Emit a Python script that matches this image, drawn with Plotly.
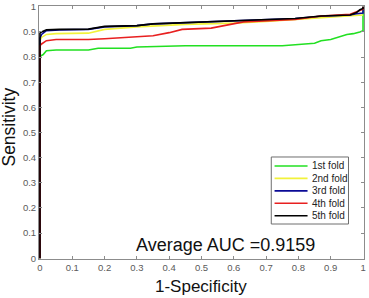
import plotly.graph_objects as go

# ROC curves (1-Specificity, Sensitivity)
fold1_x = [0, 0, 0.003, 0.01, 0.02, 0.05, 0.15, 0.18, 0.28, 0.30, 0.45, 0.60, 0.75, 0.80, 0.85, 0.87, 0.90, 0.95, 0.97, 0.99, 1, 1]
fold1_y = [0, 0.80, 0.805, 0.81, 0.825, 0.828, 0.828, 0.835, 0.835, 0.84, 0.845, 0.845, 0.845, 0.85, 0.855, 0.865, 0.87, 0.89, 0.893, 0.90, 0.905, 1.0]

fold2_x = [0, 0, 0.005, 0.02, 0.05, 0.15, 0.20, 0.30, 0.45, 0.50, 0.60, 0.70, 0.80, 0.90, 0.95, 1]
fold2_y = [0, 0.865, 0.878, 0.89, 0.893, 0.895, 0.91, 0.92, 0.93, 0.932, 0.935, 0.942, 0.95, 0.957, 0.962, 0.967]

fold3_x = [0, 0, 0.005, 0.02, 0.06, 0.15, 0.20, 0.30, 0.35, 0.45, 0.55, 0.65, 0.79, 0.87, 0.96, 0.98, 1, 1]
fold3_y = [0, 0.875, 0.89, 0.905, 0.908, 0.91, 0.92, 0.925, 0.932, 0.937, 0.94, 0.946, 0.953, 0.962, 0.967, 0.972, 0.975, 1.0]

fold4_x = [0, 0, 0.005, 0.02, 0.05, 0.15, 0.20, 0.28, 0.35, 0.40, 0.44, 0.53, 0.63, 0.79, 0.87, 0.96, 0.99, 1, 1]
fold4_y = [0, 0.845, 0.852, 0.865, 0.87, 0.87, 0.873, 0.878, 0.885, 0.897, 0.91, 0.915, 0.94, 0.95, 0.963, 0.97, 0.983, 0.99, 1.0]

fold5_x = [0, 0, 0.005, 0.02, 0.06, 0.15, 0.20, 0.30, 0.35, 0.45, 0.55, 0.65, 0.79, 0.87, 0.96, 0.98, 0.99, 1, 1]
fold5_y = [0, 0.895, 0.90, 0.908, 0.91, 0.911, 0.922, 0.925, 0.932, 0.937, 0.94, 0.946, 0.953, 0.963, 0.967, 0.977, 0.988, 0.993, 1.0]

fold_names = ["1st fold", "2nd fold", "3rd fold", "4th fold", "5th fold"]
fold_colors = ["#22e022", "#f2f23a", "#0a0a96", "#e82020", "#000000"]

x_ticks = [0, 0.1, 0.2, 0.3, 0.4, 0.5, 0.6, 0.7, 0.8, 0.9, 1]
x_tick_text = ["0", "0.1", "0.2", "0.3", "0.4", "0.5", "0.6", "0.7", "0.8", "0.9", "1"]
y_ticks = [0, 0.1, 0.2, 0.3, 0.4, 0.5, 0.6, 0.7, 0.8, 0.9, 1]
y_tick_text = ["0", "0.1", "0.2", "0.3", "0.4", "0.5", "0.6", "0.7", "0.8", "0.9", "1"]

x_title = "1-Specificity"
y_title = "Sensitivity"
auc_text = "Average AUC =0.9159"

xs = [fold1_x, fold2_x, fold3_x, fold4_x, fold5_x]
ys = [fold1_y, fold2_y, fold3_y, fold4_y, fold5_y]

fig = go.Figure()
for x, y, name, color in zip(xs, ys, fold_names, fold_colors):
    fig.add_trace(go.Scatter(x=x, y=y, mode="lines", name=name, showlegend=False,
                             line=dict(color=color, width=1.6)))

font_family = "Liberation Sans, Arial, sans-serif"
axis_common = dict(
    showgrid=False, zeroline=False, automargin=False,
    showline=True, linecolor="#8c8c8c", linewidth=1, mirror="ticks",
    ticks="inside", ticklen=3, tickcolor="#8c8c8c",
    tickfont=dict(size=9.5, color="#5a5a5a", family=font_family),
)

# Custom legend box (MATLAB style, compact rows)
leg_x0, leg_x1 = 0.7147, 0.9523
leg_y0, leg_y1 = 0.1383, 0.4032
row_top = 0.3676
row_step = 0.0491
sw_x0, sw_x1, txt_x = 0.7248, 0.8263, 0.8325

shapes = [dict(type="rect", xref="paper", yref="paper", x0=leg_x0, x1=leg_x1,
               y0=leg_y0, y1=leg_y1, line=dict(color="#6e6e6e", width=1),
               fillcolor="white", layer="above")]
annotations = []
for i, (name, color) in enumerate(zip(fold_names, fold_colors)):
    yy = row_top - i * row_step
    shapes.append(dict(type="line", xref="paper", yref="paper", x0=sw_x0, x1=sw_x1,
                       y0=yy, y1=yy, line=dict(color=color, width=1.6), layer="above"))
    annotations.append(dict(text=name, x=txt_x, y=yy, xref="paper", yref="paper",
                            xanchor="left", yanchor="middle", showarrow=False,
                            font=dict(size=10, color="#222222", family=font_family)))

annotations.append(dict(text=auc_text, x=0.574, y=0.055, xref="paper", yref="paper",
                        xanchor="center", yanchor="middle", showarrow=False,
                        font=dict(size=18, color="#111111", family=font_family)))
annotations.append(dict(text=x_title, x=0.498, y=-0.107, xref="paper", yref="paper",
                        xanchor="center", yanchor="middle", showarrow=False,
                        font=dict(size=17, color="#111111", family=font_family)))
annotations.append(dict(text=y_title, x=-0.092, y=0.52, xref="paper", yref="paper",
                        xanchor="center", yanchor="middle", showarrow=False, textangle=-90,
                        font=dict(size=17.5, color="#111111", family=font_family)))

fig.update_layout(
    width=369, height=298,
    margin=dict(l=39, r=5, t=6, b=39, autoexpand=False),
    paper_bgcolor="white", plot_bgcolor="white",
    font=dict(family=font_family),
    xaxis=dict(range=[-0.003, 1.003], tickvals=x_ticks, ticktext=x_tick_text, **axis_common),
    yaxis=dict(range=[-0.003, 1.003], tickvals=y_ticks, ticktext=y_tick_text, **axis_common),
    showlegend=False,
    shapes=shapes,
    annotations=annotations,
)

fig.write_html(
    "out.html",
    config={"displayModeBar": False, "staticPlot": True},
    post_script="document.body.style.margin='0';document.body.style.padding='0';document.body.style.overflow='hidden';",
)
